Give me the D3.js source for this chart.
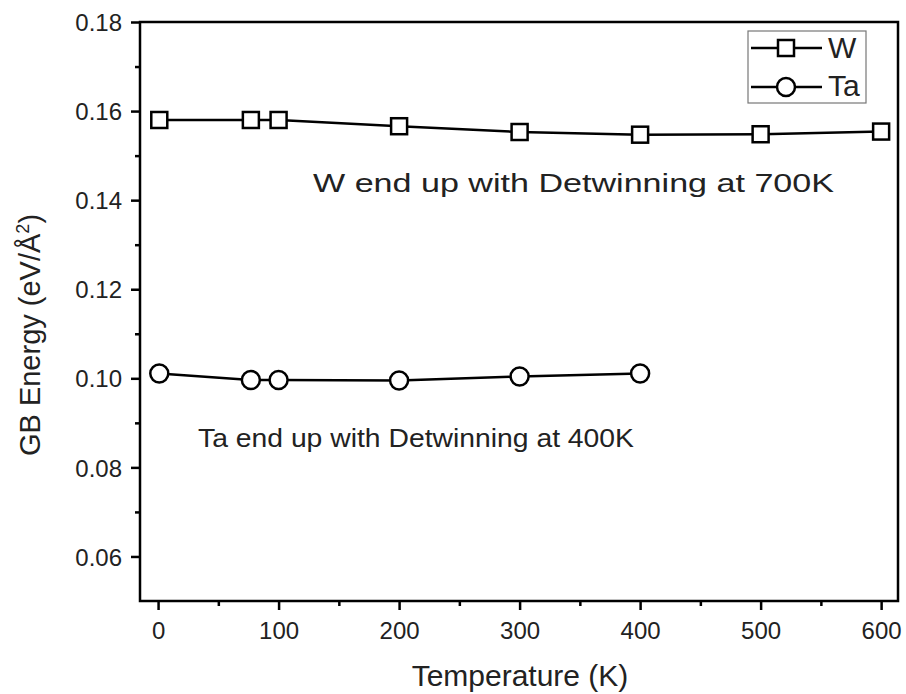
<!DOCTYPE html>
<html><head><meta charset="utf-8">
<script src="https://cdn.jsdelivr.net/npm/d3@7"></script>
<style>body{margin:0;background:#fff}svg{display:block}text{font-family:"Liberation Sans",Arial,sans-serif}</style>
</head><body><svg id="c" width="906" height="694"></svg>
<script>
const wTemps = [1, 77, 100, 200, 300, 400, 500, 600];
const wEnergy = [0.1580, 0.1580, 0.1580, 0.1566, 0.1553, 0.1547, 0.1548, 0.1554];
const taTemps = [1, 77, 100, 200, 300, 400];
const taEnergy = [0.1011, 0.0996, 0.0996, 0.0995, 0.1004, 0.1011];
const xTicks = [0, 100, 200, 300, 400, 500, 600];
const yTicks = [0.06, 0.08, 0.10, 0.12, 0.14, 0.16, 0.18];
const seriesNames = ["W", "Ta"];
const annotations = ["W end up with Detwinning at 700K", "Ta end up with Detwinning at 400K"];

const svg = d3.select("#c");
const L = 140, R = 898, T = 22, B = 601;
const x = d3.scaleLinear().domain([-15, 614]).range([L, R]);
const y = d3.scaleLinear().domain([0.05, 0.18]).range([B, T]);

// frame
svg.append("rect").attr("x", L).attr("y", T).attr("width", R - L).attr("height", B - T)
  .attr("fill", "none").attr("stroke", "#000").attr("stroke-width", 2.5);

const xAxis = svg.append("g").attr("transform", `translate(0,${B})`)
  .call(d3.axisBottom(x).tickValues(xTicks).tickFormat(d3.format("d")).tickSize(9).tickSizeOuter(0));
const xMinor = svg.append("g").attr("transform", `translate(0,${B})`)
  .call(d3.axisBottom(x).tickValues(xTicks.slice(0, -1).map(d => d + 50)).tickFormat("").tickSize(5).tickSizeOuter(0));
const yAxis = svg.append("g").attr("transform", `translate(${L},0)`)
  .call(d3.axisLeft(y).tickValues(yTicks).tickFormat(d3.format(".2f")).tickSize(9).tickSizeOuter(0));
const yMinor = svg.append("g").attr("transform", `translate(${L},0)`)
  .call(d3.axisLeft(y).tickValues(yTicks.slice(0, -1).map(d => d + 0.01)).tickFormat("").tickSize(5).tickSizeOuter(0));
[xAxis, xMinor, yAxis, yMinor].forEach(g => {
  g.select(".domain").remove();
  g.selectAll("line").attr("stroke", "#000").attr("stroke-width", 2.5);
  g.selectAll("text").attr("font-size", 24).attr("fill", "#222");
});
xAxis.selectAll("text").attr("y", 0).attr("dy", 0).attr("transform", "translate(0,38)");
yAxis.selectAll("text").attr("x", -18).attr("dy", "0.36em");

// axis titles
svg.append("text").attr("x", 520).attr("y", 686).attr("text-anchor", "middle")
  .attr("font-size", 30).attr("fill", "#222").text("Temperature (K)");
const yt = svg.append("text").attr("transform", `translate(40,335) rotate(-90)`)
  .attr("text-anchor", "middle").attr("font-size", 29).attr("fill", "#222");
yt.append("tspan").text("GB Energy (eV/Å");
yt.append("tspan").attr("dy", -11).attr("font-size", 18).text("2");
yt.append("tspan").attr("dy", 11).text(")");

const line = d3.line();
function drawSeries(xs, ys, shape) {
  const pts = xs.map((d, i) => [x(d), y(ys[i])]);
  svg.append("path").attr("d", line(pts)).attr("fill", "none").attr("stroke", "#000").attr("stroke-width", 2.5);
  pts.forEach(p => drawMarker(p[0], p[1], shape));
}
function drawMarker(cx, cy, shape) {
  if (shape === "square") {
    svg.append("rect").attr("x", cx - 8).attr("y", cy - 8).attr("width", 16).attr("height", 16)
      .attr("fill", "#fff").attr("stroke", "#000").attr("stroke-width", 2.5);
  } else {
    svg.append("circle").attr("cx", cx).attr("cy", cy).attr("r", 9)
      .attr("fill", "#fff").attr("stroke", "#000").attr("stroke-width", 2.5);
  }
}
drawSeries(wTemps, wEnergy, "square");
drawSeries(taTemps, taEnergy, "circle");

// legend
svg.append("rect").attr("x", 748).attr("y", 31).attr("width", 118).attr("height", 72)
  .attr("fill", "#fff").attr("stroke", "#777").attr("stroke-width", 1.2);
const legY = [48, 87], shapes = ["square", "circle"], legBase = [58, 96];
seriesNames.forEach((n, i) => {
  svg.append("line").attr("x1", 751).attr("x2", 822).attr("y1", legY[i]).attr("y2", legY[i])
    .attr("stroke", "#000").attr("stroke-width", 2.5);
  drawMarker(786, legY[i], shapes[i]);
  svg.append("text").attr("x", 828).attr("y", legBase[i]).attr("font-size", 30).attr("fill", "#222").text(n);
});

// annotations
svg.append("text").attr("x", 313).attr("y", 192).attr("font-size", 26).attr("fill", "#222")
  .attr("textLength", 521).attr("lengthAdjust", "spacingAndGlyphs").text(annotations[0]);
svg.append("text").attr("x", 198).attr("y", 447).attr("font-size", 26).attr("fill", "#222")
  .attr("textLength", 436).attr("lengthAdjust", "spacingAndGlyphs").text(annotations[1]);
</script></body></html>
